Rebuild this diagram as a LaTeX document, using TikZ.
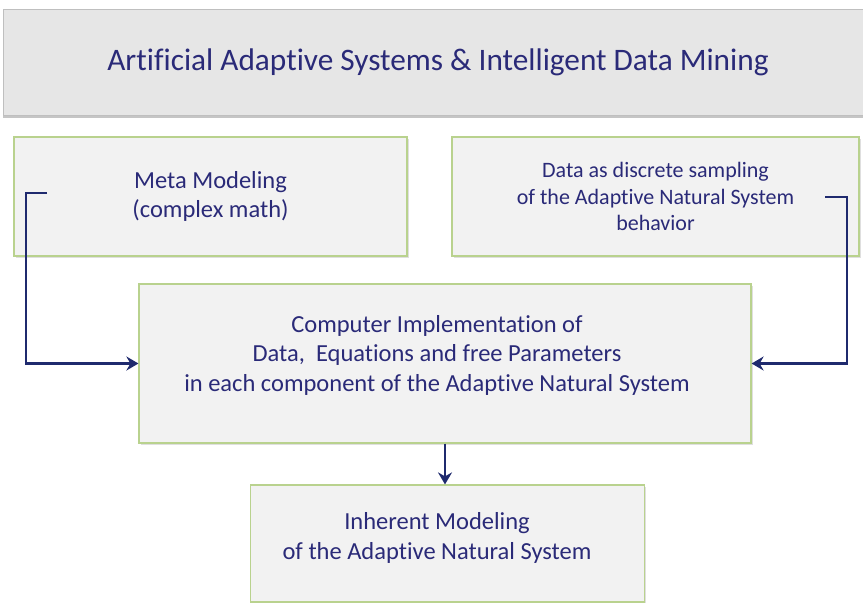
\documentclass[tikz,border=0pt]{standalone}
\usepackage{fontspec}
\setmainfont{Carlito}[Ligatures=NoCommon]
\usetikzlibrary{arrows.meta,shadows,calc}
\definecolor{txtblue}{HTML}{2A2A78}
\definecolor{arrblue}{HTML}{1F2A6E}
\definecolor{boxfill}{HTML}{F2F2F2}
\definecolor{boxline}{HTML}{B9D28E}
\definecolor{titlefill}{HTML}{E6E6E6}
\tikzset{
  greenbox/.style={draw=boxline, line width=1.2pt, fill=boxfill, inner sep=0pt,
    align=center, text=txtblue,
    drop shadow={opacity=0.25, shadow xshift=1.5pt, shadow yshift=-1.5pt}},
  titlebox/.style={draw=gray!50, line width=0.8pt, fill=titlefill, inner sep=0pt,
    align=center, text=txtblue,
    drop shadow={opacity=0.45, shadow xshift=0pt, shadow yshift=-3pt}},
  flow/.style={draw=arrblue, line width=2.5pt, -{Stealth[length=12pt,width=14pt,inset=4pt]}}
}
\begin{document}
\begin{tikzpicture}[x=1pt,y=-1pt]
\useasboundingbox (0,0) rectangle (863,603);
\fill[white] (0,0) rectangle (863,603);
% title
\node[titlebox, minimum width=870pt, minimum height=106pt,
  font=\fontsize{31.3}{36}\selectfont] (title) at (438,62)
  {Artificial Adaptive Systems \& Intelligent Data Mining};
% boxes
\node[greenbox, minimum width=393pt, minimum height=119pt,
  font=\fontsize{24.5}{29}\selectfont] (meta) at (210.5,196.5)
  {Meta Modeling\\(complex math)};
\node[greenbox, minimum width=407pt, minimum height=119pt,
  font=\fontsize{22}{26.5}\selectfont] (data) at (655.5,196.5)
  {Data as discrete sampling\\of the Adaptive Natural System\\behavior};
\node[greenbox, minimum width=612pt, minimum height=159pt] (comp) at (445,363.5)
  {};
\node[text=txtblue, align=center, inner sep=0pt,
  font=\fontsize{24.5}{29.5}\selectfont] (comptext) at (437,355)
  {Computer Implementation of\\Data,\ \ Equations and free Parameters\\in each component of the Adaptive Natural System};
\node[greenbox, minimum width=394pt, minimum height=117pt] (inh) at (447.5,543.5)
  {};
\node[text=txtblue, align=center, inner sep=0pt,
  font=\fontsize{24.5}{30}\selectfont] (inhtext) at (437,538)
  {Inherent Modeling\\of the Adaptive Natural System};
% connectors
\coordinate (mstart) at (47,193);
\coordinate (dstart) at (825,197);
\draw[flow] (mstart) -- ++(-21,0) |- (comp.west);
\draw[flow] (dstart) -- ++(22,0) |- (comp.east);
\draw[flow] (comp.south) -- (comp.south |- inh.north);
\end{tikzpicture}
\end{document}
